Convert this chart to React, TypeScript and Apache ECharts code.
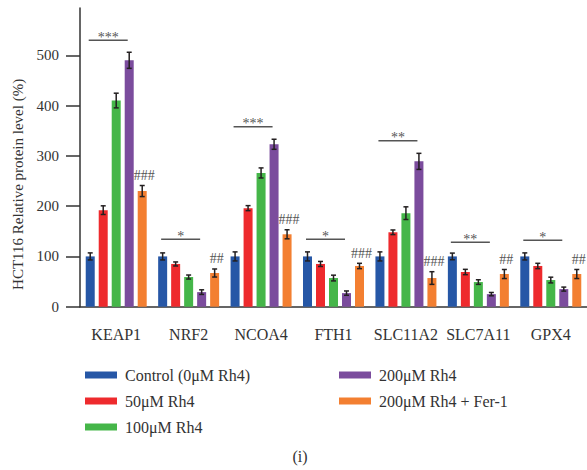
import React, { useEffect, useRef } from 'react';
import * as echarts from 'echarts';

const categories = ['KEAP1', 'NRF2', 'NCOA4', 'FTH1', 'SLC11A2', 'SLC7A11', 'GPX4'];
const seriesNames = ['Control (0μM Rh4)', '50μM Rh4', '100μM Rh4', '200μM Rh4', '200μM Rh4 + Fer-1'];
const colors = ['#2657A6', '#EE2A2D', '#45B649', '#7B4C9D', '#F37F31'];

const controlValues = [100, 100, 100, 100, 100, 100, 100];
const controlErrors = [7, 7, 9, 9, 9, 6.6, 7];
const rh50Values = [192, 85, 196, 85, 148, 69, 81];
const rh50Errors = [8.6, 4, 5, 5, 4.6, 5.3, 5.3];
const rh100Values = [410, 59, 266, 57, 186, 49, 53];
const rh100Errors = [14.6, 4, 10, 5.7, 12.6, 4.6, 5.7];
const rh200Values = [490, 29, 323, 27, 289, 25, 35];
const rh200Errors = [16, 4.6, 10, 4.3, 16, 3.3, 4];
const ferValues = [230, 67, 144, 81, 57, 65, 65];
const ferErrors = [11, 8, 9, 5.3, 12.6, 9, 9];

const starLabels = ['***', '*', '***', '*', '**', '**', '*'];
const starLineValues = [530, 134, 358, 134, 330, 128, 132];
const hashLabels = ['###', '##', '###', '###', '###', '##', '##'];
const yTicks = [0, 100, 200, 300, 400, 500];

const FONT = 'Liberation Serif';
const TEXT = '#333';

export default function App() {
  const ref = useRef<HTMLDivElement>(null);
  useEffect(() => {
    document.body.style.margin = '0';
    if (!ref.current) return;
    const chart = echarts.init(ref.current, undefined, { renderer: 'svg' });
    const values = [controlValues, rh50Values, rh100Values, rh200Values, ferValues];
    const errors = [controlErrors, rh50Errors, rh100Errors, rh200Errors, ferErrors];
    const errData: number[][] = [];
    values.forEach((arr, s) => arr.forEach((v, c) => errData.push([c, v, errors[s][c], s])));
    const annData = categories.map((_, c) => [c, starLineValues[c], ferValues[c] + ferErrors[c]]);
    const axisStroke = { color: '#333', width: 1.5 };

    const legendBase = {
      orient: 'vertical',
      top: 362,
      itemWidth: 32,
      itemHeight: 7,
      itemGap: 10,
      icon: 'rect',
      selectedMode: false,
      textStyle: { fontSize: 16, lineHeight: 16, color: TEXT, fontFamily: FONT, padding: [0, 0, 0, 3] },
    };

    chart.setOption({
      animation: false,
      grid: { left: 80, top: 8, width: 514, height: 298.7 },
      xAxis: {
        type: 'category',
        data: categories,
        axisLine: { lineStyle: axisStroke },
        axisTick: { alignWithLabel: true, length: 13, lineStyle: axisStroke },
        axisLabel: { interval: 0, margin: 20, fontSize: 16, color: TEXT, fontFamily: FONT },
      },
      yAxis: {
        type: 'value',
        min: 0,
        max: 594,
        name: 'HCT116 Relative protein level (%)',
        nameLocation: 'middle',
        nameGap: 51,
        nameTextStyle: { fontSize: 15, color: TEXT, fontFamily: FONT, padding: [0, 54, 0, 0] },
        axisLine: { show: true, lineStyle: axisStroke },
        axisTick: { show: true, length: 14, customValues: yTicks, lineStyle: axisStroke },
        axisLabel: { customValues: yTicks, margin: 21, fontSize: 15, color: TEXT, fontFamily: FONT },
        splitLine: { show: false },
      },
      legend: [
        { ...legendBase, left: 80, data: seriesNames.slice(0, 3) },
        { ...legendBase, left: 334, data: seriesNames.slice(3) },
      ],
      graphic: [
        {
          type: 'text',
          x: 300,
          y: 456,
          style: { text: '(i)', textAlign: 'center', textVerticalAlign: 'middle', fontSize: 16, fill: TEXT, fontFamily: FONT },
        },
      ],
      series: [
        ...values.map((arr, s) => ({
          type: 'bar',
          name: seriesNames[s],
          data: arr,
          barWidth: 9,
          barGap: '44.4%',
          itemStyle: { color: colors[s] },
        })),
        {
          type: 'custom',
          name: 'errors',
          data: errData,
          encode: { x: 0, y: 1 },
          z: 10,
          silent: true,
          renderItem: (params: any, api: any) => {
            const c = api.value(0);
            const v = api.value(1);
            const e = api.value(2);
            const s = api.value(3);
            const x = api.coord([c, v])[0] + (s - 2) * 13;
            const top = api.coord([c, v + e])[1];
            const bot = api.coord([c, v - e])[1];
            const st = { stroke: '#231f20', lineWidth: 1.5 };
            return {
              type: 'group',
              children: [
                { type: 'line', shape: { x1: x, y1: top, x2: x, y2: bot }, style: st },
                { type: 'line', shape: { x1: x - 2.5, y1: top, x2: x + 2.5, y2: top }, style: st },
                { type: 'line', shape: { x1: x - 2.5, y1: bot, x2: x + 2.5, y2: bot }, style: st },
              ],
            };
          },
        },
        {
          type: 'custom',
          name: 'annotations',
          data: annData,
          encode: { x: 0, y: 1 },
          z: 11,
          silent: true,
          renderItem: (params: any, api: any) => {
            const i = params.dataIndex;
            const c = api.value(0);
            const p = api.coord([c, api.value(1)]);
            const ft = api.coord([c, api.value(2)]);
            const cx = p[0];
            const ly = p[1];
            return {
              type: 'group',
              children: [
                { type: 'line', shape: { x1: cx - 27.5, y1: ly, x2: cx + 11.5, y2: ly }, style: { stroke: '#555', lineWidth: 1.5 } },
                {
                  type: 'text',
                  x: cx - 8,
                  y: ly - 3,
                  style: { text: starLabels[i], textAlign: 'center', textVerticalAlign: 'middle', fontSize: 14, fill: '#555', fontFamily: FONT },
                },
                {
                  type: 'text',
                  x: cx + 28,
                  y: ft[1] - 10,
                  style: { text: hashLabels[i], textAlign: 'center', textVerticalAlign: 'middle', fontSize: 14, fill: '#555', fontFamily: FONT },
                },
              ],
            };
          },
        },
      ],
    });
    return () => chart.dispose();
  }, []);
  return <div ref={ref} style={{ width: 587, height: 470 }} />;
}
